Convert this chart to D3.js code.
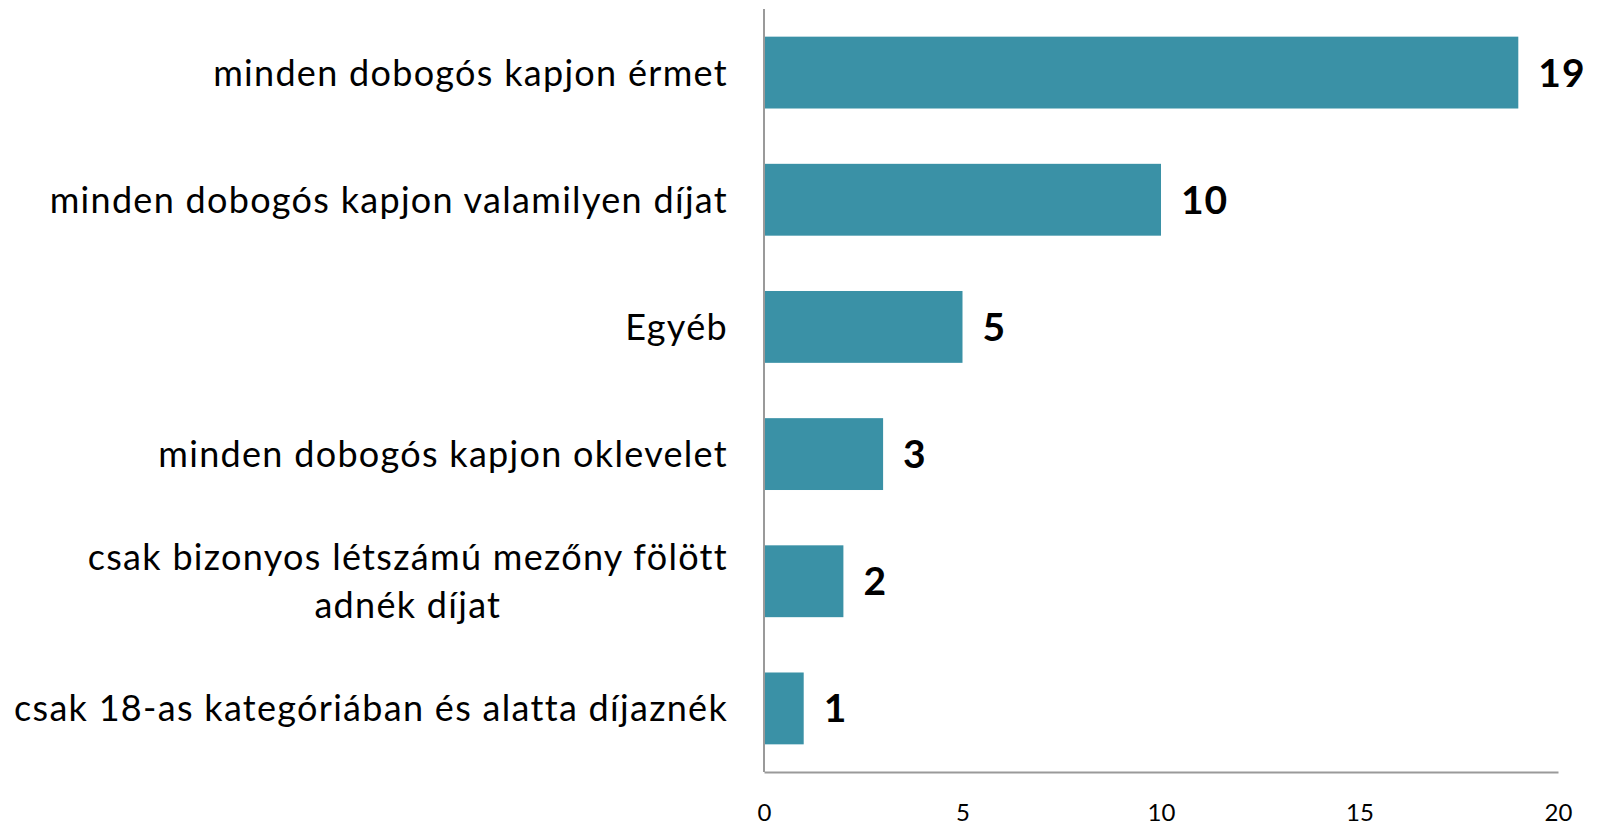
<!DOCTYPE html>
<html>
<head>
<meta charset="utf-8">
<script src="https://cdn.jsdelivr.net/npm/d3@7"></script>
<style>
  body { margin: 0; background: #fff; }
  svg { display: block; }
  .lbl { font-family: "Lato", "Open Sans", sans-serif; }
</style>
</head>
<body>
<div id="chart"></div>
<script>
var svgWidth = 1597;
var svgHeight = 825;

var margin = { top: 9, right: 39, bottom: 53, left: 764 };
var width = svgWidth - margin.left - margin.right;
var height = svgHeight - margin.top - margin.bottom;

// data
var categories = [
    ["minden dobogós kapjon érmet"],
    ["minden dobogós kapjon valamilyen díjat"],
    ["Egyéb"],
    ["minden dobogós kapjon oklevelet"],
    ["csak bizonyos létszámú mezőny fölött", "adnék díjat"],
    ["csak 18-as kategóriában és alatta díjaznék"]
];
var values = [19, 10, 5, 3, 2, 1];
var xTicks = [0, 5, 10, 15, 20];

var svg = d3.select("#chart")
    .append("svg")
    .attr("width", svgWidth)
    .attr("height", svgHeight);

var chartGroup = svg.append("g")
    .attr("transform", `translate(${margin.left}, ${margin.top})`);

var xScale = d3.scaleLinear()
    .domain([0, 20])
    .range([0, width]);

var yScale = d3.scaleBand()
    .domain(d3.range(values.length))
    .range([0, height])
    .paddingInner(0.435)
    .paddingOuter(0.2175);

// bars
chartGroup.selectAll("rect.bar")
    .data(values)
    .enter()
    .append("rect")
    .attr("class", "bar")
    .attr("x", 0)
    .attr("y", (d, i) => yScale(i))
    .attr("width", d => xScale(d))
    .attr("height", yScale.bandwidth())
    .attr("fill", "#3a91a6");

// value labels
chartGroup.selectAll("text.val")
    .data(values)
    .enter()
    .append("text")
    .attr("class", "val lbl")
    .attr("x", d => xScale(d) + 20)
    .attr("y", (d, i) => yScale(i) + yScale.bandwidth() / 2)
    .attr("dy", "0.36em")
    .style("font-size", "39px")
    .style("font-weight", "bold")
    .style("letter-spacing", "1px")
    .style("fill", "#000")
    .text(d => d);

// category labels
var labelRight = -36;
var catText = chartGroup.selectAll("text.cat")
    .data(categories)
    .enter()
    .append("text")
    .attr("class", "cat lbl")
    .attr("y", (d, i) => yScale(i) + yScale.bandwidth() / 2)
    .style("font-size", "36px")
    .style("letter-spacing", "1.3px")
    .style("fill", "#000");

catText.each(function (lines) {
    var t = d3.select(this);
    var n = lines.length;
    var spans = lines.map(function (line, k) {
        return t.append("tspan")
            .attr("dy", k == 0 ? (0.36 - (n - 1) * 0.66) + "em" : "1.32em")
            .text(line);
    });
    if (n == 1) {
        t.attr("text-anchor", "end");
        spans[0].attr("x", labelRight);
    } else {
        // centre the lines on the widest one, which ends at labelRight
        var w = d3.max(spans, s => s.node().getComputedTextLength());
        t.attr("text-anchor", "middle");
        spans.forEach(s => s.attr("x", labelRight - w / 2));
    }
});

// axes
var bottomAxis = d3.axisBottom(xScale)
    .tickValues(xTicks)
    .tickSize(0)
    .tickPadding(32);

var xAxisG = chartGroup.append("g")
    .attr("transform", `translate(0, ${height})`)
    .call(bottomAxis);
xAxisG.select(".domain").attr("stroke", "#9a9a9a").attr("stroke-width", 2);
xAxisG.selectAll("text")
    .attr("class", "lbl")
    .style("font-size", "24px")
    .style("fill", "#000");

chartGroup.append("line")
    .attr("x1", 0).attr("x2", 0)
    .attr("y1", 0).attr("y2", height)
    .attr("stroke", "#9a9a9a")
    .attr("stroke-width", 2);
</script>
</body>
</html>
